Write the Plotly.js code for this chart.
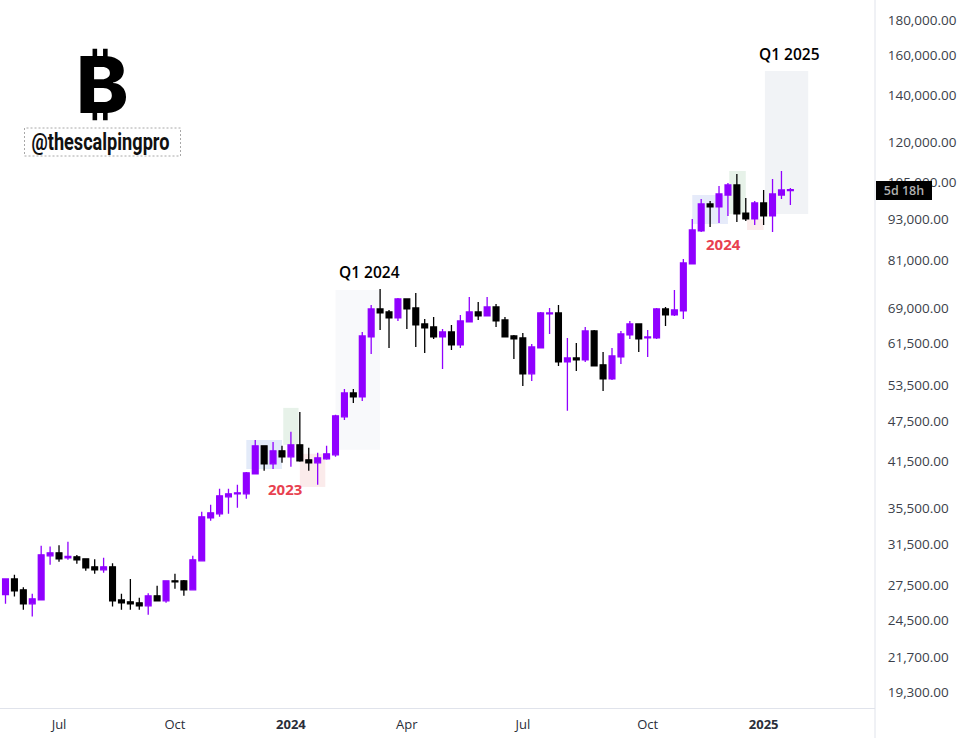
<!DOCTYPE html>
<html><head><meta charset="utf-8">
<script src="https://cdn.plot.ly/plotly-3.0.1.min.js"></script>
<style>html,body{margin:0;padding:0;background:#fff;overflow:hidden}#c{width:961px;height:738px}</style>
</head><body><div id="c"></div>
<script>
const weeks = ["2023-05-22","2023-05-29","2023-06-05","2023-06-12","2023-06-19","2023-06-26","2023-07-03","2023-07-10","2023-07-17","2023-07-24","2023-07-31","2023-08-07","2023-08-14","2023-08-21","2023-08-28","2023-09-04","2023-09-11","2023-09-18","2023-09-25","2023-10-02","2023-10-09","2023-10-16","2023-10-23","2023-10-30","2023-11-06","2023-11-13","2023-11-20","2023-11-27","2023-12-04","2023-12-11","2023-12-18","2023-12-25","2024-01-01","2024-01-08","2024-01-15","2024-01-22","2024-01-29","2024-02-05","2024-02-12","2024-02-19","2024-02-26","2024-03-04","2024-03-11","2024-03-18","2024-03-25","2024-04-01","2024-04-08","2024-04-15","2024-04-22","2024-04-29","2024-05-06","2024-05-13","2024-05-20","2024-05-27","2024-06-03","2024-06-10","2024-06-17","2024-06-24","2024-07-01","2024-07-08","2024-07-15","2024-07-22","2024-07-29","2024-08-05","2024-08-12","2024-08-19","2024-08-26","2024-09-02","2024-09-09","2024-09-16","2024-09-23","2024-09-30","2024-10-07","2024-10-14","2024-10-21","2024-10-28","2024-11-04","2024-11-11","2024-11-18","2024-11-25","2024-12-02","2024-12-09","2024-12-16","2024-12-23","2024-12-30","2025-01-06","2025-01-13","2025-01-20","2025-01-27"];
const opens = [26690,28115,27110,25880,26220,30355,30655,30150,30250,30050,29260,28970,29260,26220,26050,25965,25710,26575,26135,27930,27930,27110,29850,34430,34900,36920,37295,37295,39850,43740,41200,43020,42170,43885,41750,41340,41890,42455,48165,52150,51465,62810,68930,68250,66900,71255,69165,65580,64930,62810,63860,61165,66015,68250,67350,69395,66450,63020,62600,55555,60555,67800,68025,57810,58580,58190,64070,57240,54635,58780,63230,65580,62600,62600,68930,67575,68475,80040,89310,97700,96730,100650,104065,94790,92945,98020,93880,100650,102100];
const highs = [28180,28495,27355,26755,31380,31305,31450,31800,30425,30050,30020,30150,29625,26755,28115,26400,26815,27475,27955,28590,28020,30355,35130,35955,37915,37915,38425,40115,44610,43740,44320,43740,45820,48965,43450,42740,43740,48485,52850,52850,63860,69860,73650,68700,71500,71255,72700,66675,67125,64495,65365,67575,71740,70555,71740,70090,67125,63230,63650,61370,68250,69165,69860,62600,61570,64930,64280,59760,60555,64070,66235,65580,64280,69165,69395,73410,81375,92945,99325,98665,103720,104755,107940,99650,98665,102340,106150,109010,103030];
const lows = [25880,26515,25370,24815,26200,29460,29755,29950,29560,28875,28590,28685,25650,25370,25370,25370,24955,26135,25965,27200,26575,27110,29850,34090,34550,34900,35600,36675,39850,40250,40515,41340,40790,41475,40250,38425,41750,42170,47680,50450,50785,59365,64280,60555,66235,64495,60760,59560,62390,56480,60150,60555,66015,66450,67350,64930,62810,58385,53380,54270,60555,63440,57050,49130,56105,57810,57050,52500,54450,57430,62390,59760,58780,62390,65145,67350,66675,80040,89020,90510,91720,93880,92025,92330,91115,91115,89020,99325,97375];
const closes = [28110,27020,25880,26310,30455,30655,30050,30285,29950,29165,28970,29260,26135,25965,25880,25710,26575,26135,27930,27840,27110,29950,34550,35010,37045,37295,37420,39985,43740,41200,43020,42170,43885,41610,41340,42030,42600,48325,52150,51465,63020,68930,68025,66900,71255,68930,65365,64715,62810,63860,61165,66235,68250,67350,69395,66235,62810,62390,55555,60760,68025,68025,57810,58580,58190,64070,57050,54635,58975,63440,65580,62390,62810,68930,67575,68700,80305,89600,97700,96730,100990,104065,94510,92945,98020,93880,100990,102340,102440];

const priceTicks = [180000,160000,140000,120000,105000,93000,81000,69000,61500,53500,47500,41500,35500,31500,27500,24500,21700,19300];
const dateTicks = ["2023-07-03","2023-10-02","2024-01-01","2024-04-01","2024-07-01","2024-10-07","2025-01-06"];
const dateLabels = ["Jul","Oct","<b>2024</b>","Apr","Jul","Oct","<b>2025</b>"];

const zoneStart = ["2023-11-27","2023-12-26","2024-01-08","2024-02-05","2024-11-11","2024-12-10","2024-12-24","2025-01-07"];
const zoneEnd   = ["2023-12-25","2024-01-07","2024-01-28","2024-03-11","2024-12-09","2024-12-23","2025-01-06","2025-02-10"];
const zoneHigh  = [44610,49620,42600,73410,100650,109010,92945,151940];
const zoneLow   = [40515,43885,38160,43160,91420,94510,89600,94510];
const zoneFill  = ["#e3ebf9","#e7f2e9","#fbebeb","#f8f9fb","#e6ebfa","#e7f2e9","#fbebeb","#f1f3f6"];

const W = 875, H = 708;
const px = v => v / W, py = v => 1 - v / H;

const shapes = zoneStart.map((s, k) => ({
  type: 'rect', layer: 'below', xref: 'x', yref: 'y', x0: s, x1: zoneEnd[k], y0: zoneLow[k], y1: zoneHigh[k],
  fillcolor: zoneFill[k], line: {width: 0}
}));
shapes.push({type:'rect', xref:'paper', yref:'paper', x0:px(24.5), x1:px(180.5), y0:py(156), y1:py(128),
  line:{color:'#a8a8a8', width:1, dash:'2px,2px'}, fillcolor:'rgba(0,0,0,0)'});
shapes.push({type:'line', xref:'paper', yref:'paper', x0:1, x1:1, y0:py(738), y1:1, line:{color:'#e0e3eb', width:1}});

const label = (text, x, y, font, extra) => Object.assign({
  text, xref:'paper', yref:'paper', x:px(x), y:py(y), xanchor:'center', yanchor:'middle', showarrow:false, font
}, extra || {});
const tv = "'Open Sans', sans-serif";
const annotations = [
  label('Q1 2024', 369, 272, {family:tv, size:15.5, color:'#000', weight:600}),
  label('Q1 2025', 789, 54, {family:tv, size:15.5, color:'#000', weight:600}),
  label('2023', 285, 489, {family:tv, size:15, color:'#e8414f', weight:700}),
  label('2024', 723, 244, {family:tv, size:15, color:'#e8414f', weight:700}),
  label('₿', 102, 84.5, {family:"Inter, 'Noto Sans', 'DejaVu Sans'", size:79, color:'#000', weight:800}),
  label('@thescalpingpro', 100, 142, {family:"Roboto, 'Liberation Sans'", size:23, color:'#111', weight:700}),
  label('5d 18h', 904, 190.5, {family:tv, size:12.5, color:'#b0b0b0', weight:600},
    {bgcolor:'#000', width:56, height:19, borderpad:0, bordercolor:'#000', borderwidth:0})
];

Plotly.newPlot('c', [{
  type:'candlestick', x:weeks, open:opens, high:highs, low:lows, close:closes,
  increasing:{line:{color:'#9000ff', width:1.3}, fillcolor:'#9000ff'},
  decreasing:{line:{color:'#000000', width:1.3}, fillcolor:'#000000'},
  whiskerwidth:0, showlegend:false, hoverinfo:'skip'
}], {
  width:961, height:738, paper_bgcolor:'#fff', plot_bgcolor:'#fff', showlegend:false, hovermode:false,
  margin:{l:0, r:961-W, t:0, b:738-H, pad:0},
  boxgap:0.28, boxgroupgap:0.1,
  xaxis:{type:'date', range:['2023-05-17 16:20','2025-04-03 10:00'], rangeslider:{visible:false},
    tickmode:'array', tickvals:dateTicks, ticktext:dateLabels, showgrid:false, zeroline:false,
    showline:true, linecolor:'#e0e3eb', linewidth:1, ticks:'outside', ticklen:4, tickcolor:'rgba(0,0,0,0)',
    tickfont:{family:tv, size:13, color:'#2a2e39'}},
  yaxis:{type:'log', side:'right', range:[4.26264,5.28414], tickmode:'array', tickvals:priceTicks,
    ticktext:priceTicks.map(v => v.toLocaleString('en-US',{minimumFractionDigits:2})),
    showgrid:false, zeroline:false, showline:false, ticks:'outside', ticklen:9, tickcolor:'rgba(0,0,0,0)',
    tickfont:{family:tv, size:13.5, color:'#3b3f4a'}},
  shapes, annotations
}, {displayModeBar:false, staticPlot:true}).then(() => {
  document.querySelectorAll('.annotation-text').forEach(t => {
    if (t.textContent.indexOf('@') !== 0) return;
    const b = t.getBBox(), cx = b.x + b.width / 2;
    t.setAttribute('transform', `translate(${cx},0) scale(${138 / b.width},1) translate(${-cx},0)`);
  });
});
</script></body></html>
